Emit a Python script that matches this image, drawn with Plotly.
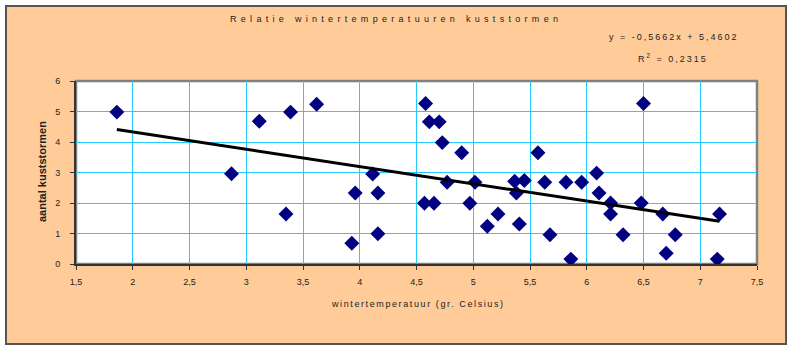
import plotly.graph_objects as go

# ---- data ----
temperatuur = [1.86, 2.87, 3.115, 3.35, 3.39, 3.62, 3.93, 3.96, 4.114, 4.16, 4.16,
               4.57, 4.58, 4.613, 4.654, 4.70, 4.727, 4.77, 4.898, 4.97, 5.015,
               5.124, 5.218, 5.365, 5.38, 5.406, 5.45, 5.57, 5.63, 5.676, 5.817,
               5.86, 5.955, 6.087, 6.108, 6.21, 6.21, 6.32, 6.48, 6.50, 6.67,
               6.70, 6.78, 7.15, 7.17]
kuststormen = [4.98, 2.96, 4.68, 1.64, 4.98, 5.24, 0.68, 2.33, 2.95, 2.33, 0.99,
               1.99, 5.26, 4.66, 1.99, 4.66, 3.98, 2.68, 3.65, 1.99, 2.68,
               1.24, 1.64, 2.71, 2.33, 1.31, 2.74, 3.65, 2.68, 0.96, 2.68,
               0.16, 2.68, 2.98, 2.33, 2.0, 1.64, 0.96, 2.0, 5.26, 1.64,
               0.35, 0.96, 0.16, 1.64]
slope = -0.5662
intercept = 5.4602
r2 = 0.2315

x_tickvals = [1.5, 2, 2.5, 3, 3.5, 4, 4.5, 5, 5.5, 6, 6.5, 7, 7.5]
x_ticktext = ["1,5", "2", "2,5", "3", "3,5", "4", "4,5", "5", "5,5", "6", "6,5", "7", "7,5"]
y_tickvals = [0, 1, 2, 3, 4, 5, 6]
y_ticktext = ["0", "1", "2", "3", "4", "5", "6"]

title_text = "Relatie wintertemperatuuren kuststormen"
x_title = "wintertemperatuur (gr. Celsius)"
y_title = "aantal kuststormen"

# ---- layout geometry (pixels) ----
W, H = 794, 352
L, R, T, B = 76, 757, 81, 264
pw, ph = R - L, B - T

def px(x):
    return (x - L) / pw

def py(y):
    return (B - y) / ph

FONT = "Liberation Sans, Arial, sans-serif"

xfit = [min(temperatuur), max(temperatuur)]
yfit = [slope * v + intercept for v in xfit]

fig = go.Figure()
fig.add_trace(go.Scatter(
    x=temperatuur, y=kuststormen, mode="markers",
    marker=dict(symbol="diamond", size=11.5, color="#000080", line=dict(width=0)),
    showlegend=False, hoverinfo="x+y"))
fig.add_trace(go.Scatter(
    x=xfit, y=yfit, mode="lines",
    line=dict(color="black", width=3),
    showlegend=False, hoverinfo="skip"))

def fmt(v, n):
    return f"{v:.{n}f}".replace(".", ",")

eq_text = f"y = {fmt(slope,4)}x + {fmt(intercept,4)}"
r2_text = f"R<sup>2</sup> = {fmt(r2,4)}"

def spaced(t, sp):
    return f'<span style="letter-spacing:{sp}px">{t}</span>'

shapes = [
    dict(type="rect", xref="paper", yref="paper", layer="below",
         x0=px(6), x1=px(786), y0=py(344), y1=py(6),
         fillcolor="#FFCC99", line=dict(color="#555555", width=2)),
    dict(type="rect", xref="paper", yref="paper", layer="below",
         x0=0, x1=1, y0=0, y1=1,
         fillcolor="white", line=dict(color="#808080", width=2.5)),
]

annotations = [
    dict(text=spaced(title_text, 4.3), x=px(396), y=py(19), xref="paper", yref="paper",
         showarrow=False, font=dict(family=FONT, size=9, color="#222222"),
         xanchor="center", yanchor="middle"),
    dict(text=spaced(eq_text, 2.0), x=px(741), y=py(37), xref="paper", yref="paper",
         showarrow=False, font=dict(family=FONT, size=9, color="#222222"),
         xanchor="right", yanchor="middle"),
    dict(text=spaced(r2_text, 2.0), x=px(673), y=py(58), xref="paper", yref="paper",
         showarrow=False, font=dict(family=FONT, size=9, color="#222222"),
         xanchor="center", yanchor="middle"),
    dict(text=spaced(x_title, 1.6), x=px(418), y=py(304), xref="paper", yref="paper",
         showarrow=False, font=dict(family=FONT, size=9, color="#222222"),
         xanchor="center", yanchor="middle"),
    dict(text="<b>" + y_title + "</b>", x=px(42), y=py(172), xref="paper", yref="paper",
         showarrow=False, textangle=-90, font=dict(family=FONT, size=11, color="#222222"),
         xanchor="center", yanchor="middle"),
]

fig.update_layout(
    width=W, height=H,
    margin=dict(l=L, r=W - R, t=T, b=H - B, pad=0),
    paper_bgcolor="white", plot_bgcolor="rgba(0,0,0,0)",
    shapes=shapes, annotations=annotations,
    font=dict(family=FONT, size=9, color="#222222"),
    xaxis=dict(range=[1.5, 7.5], tickvals=x_tickvals, ticktext=x_ticktext,
               showgrid=True, gridcolor="#22CCFF", gridwidth=1.3,
               showline=True, linecolor="#333333", linewidth=2,
               ticks="outside", ticklen=4, tickcolor="#333333", tickwidth=1,
               ticklabelstandoff=4, zeroline=False, fixedrange=True),
    yaxis=dict(range=[0, 6], tickvals=y_tickvals, ticktext=y_ticktext,
               showgrid=True, gridcolor="#22CCFF", gridwidth=1.3,
               showline=True, linecolor="#333333", linewidth=2,
               ticks="outside", ticklen=4, tickcolor="#333333", tickwidth=1,
               ticklabelstandoff=8, zeroline=False, fixedrange=True),
)

fig.write_html("out.html")
